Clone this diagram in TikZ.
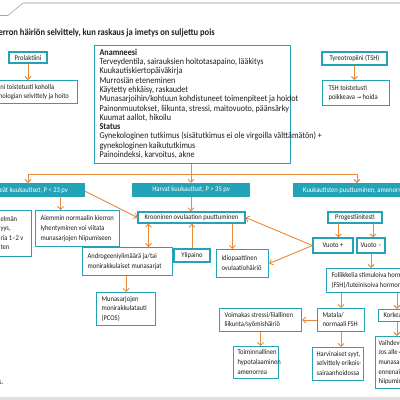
\documentclass[tikz,border=0pt]{standalone}
\usepackage{fontspec}
\setmainfont{Carlito}[FakeStretch=0.9]
\newfontfamily\symf{DejaVu Sans}
\usetikzlibrary{arrows.meta,calc}
\definecolor{teal1}{RGB}{34,163,183}
\definecolor{orng}{RGB}{232,137,60}
\definecolor{txt}{RGB}{30,30,30}
\newcommand\fs{\fontsize{7.3}{9.6}\selectfont}
\newcommand\fsb{\fontsize{9}{9.3}\selectfont}
\newcommand\rarr{{\symf\fontsize{5.5}{9.3}\selectfont →}}
\newcommand\lb[2]{\makebox[#1][l]{\begin{tabular}{@{}l@{}}#2\end{tabular}}}
\begin{document}
\begin{tikzpicture}[x=1pt,y=-1pt,
  box/.style={draw=teal1, line width=1.1pt, fill=white, inner xsep=5pt, inner ysep=1pt,
    font=\fs, text=txt, anchor=north west},
  cbox/.style={draw=teal1, line width=1.1pt, fill=white, inner xsep=3pt, inner ysep=1pt,
    font=\fs, text=txt, align=center},
  cat/.style={fill=teal1, text=white, font=\fs, inner ysep=1pt, minimum height=14pt},
  arr/.style={draw=orng, line width=0.9pt, -{Straight Barb[length=3pt,width=6pt]}},
  darr/.style={draw=orng, line width=0.9pt, {Straight Barb[length=3pt,width=6pt]}-{Straight Barb[length=3pt,width=6pt]}},
  ln/.style={draw=orng, line width=0.9pt}]
\useasboundingbox (0,0) rectangle (400,400);
\clip (0,0) rectangle (400,400);
\fill[white] (0,0) rectangle (400,400);

% frame decorations
\draw[gray!70, line width=0.6pt] (0,15.5) -- (8,15.5) -- (23,3);
\draw[gray!30, line width=2pt] (23,3) -- (400,3);
\fill[gray!25] (0,396.5) rectangle (400,400);

% title
\node[anchor=east, inner sep=0, text=txt, font=\bfseries\fontsize{9.5}{10}\selectfont] (title) at (215,33)
  {Kuukautiskierron häiriön selvittely, kun raskaus ja imetys on suljettu pois};

% top row
\node[cbox, minimum width=38pt, minimum height=11pt] (prl) at (28,57.5) {Prolaktiini};
\node[box, inner xsep=4pt, minimum height=23pt] (prl2) at (-26,80)
  {\lb{95pt}{Prolaktiini toistetusti koholla\\endokrinologian selvittely ja hoito}};
\node[box, font=\fsb, minimum height=118pt] (anam) at (94,45)
  {\lb{186pt}{\textbf{Anamneesi}\\
   Terveydentila, sairauksien hoitotasapaino, lääkitys\\
   Kuukautiskiertopäiväkirja\\
   Murrosiän eteneminen\\
   Käytetty ehkäisy, raskaudet\\
   Munasarjoihin/kohtuun kohdistuneet toimenpiteet ja hoidot\\
   Painonmuutokset, liikunta, stressi, maitovuoto, päänsärky\\
   Kuumat aallot, hikoilu\\
   \textbf{Status}\\
   Gynekologinen tutkimus (sisätutkimus ei ole virgoilla välttämätön) +\\
   gynekologinen kaikututkimus\\
   Painoindeksi, karvoitus, akne}};
\node[cbox, minimum width=65pt, minimum height=13pt] (tsh) at (354.5,58.5) {Tyreotropiini (TSH)};
\node[box, inner xsep=6pt, minimum height=25pt] (tsh2) at (322,80)
  {\lb{55pt}{TSH toistetusti\\poikkeava \rarr{} hoida}};

% categories
\node[cat, anchor=north east, inner xsep=17pt] (tih) at (85,183) {Tiheät kuukautiset, P < 23 pv};
\node[cat, minimum width=118pt] (harv) at (191,190) {Harvat kuukautiset, P > 35 pv};
\node[cat, anchor=north west, inner xsep=10pt] (amen) at (293,183) {Kuukautisten puuttuminen, amenorrea};

% left column
\node[box, inner xsep=3pt, minimum height=46pt] (left0) at (-3,210)
  {\lb{28pt}{elmän\\yys,\\ria 1–2 v\\ten}};
\node[box, minimum height=36pt] (aiem) at (35,210)
  {\lb{74pt}{Aiemmin normaalin kierron\\lyhentyminen voi viitata\\munasarjojen hiipumiseen}};

% middle column
\node[cbox, minimum width=107pt, minimum height=11pt] (kroo) at (191.5,217.5) {Krooninen ovulaation puuttuminen};
\node[box, minimum height=28pt] (andr) at (82,247)
  {\lb{80pt}{Androgeeniylimäärä ja/tai\\monirakkulaiset munasarjat}};
\node[cbox, minimum width=36pt, minimum height=13pt] (ylip) at (192,255.5) {Ylipaino};
\node[box, minimum height=28pt] (idio) at (216,249)
  {\lb{42pt}{Idiopaattinen\\ovulaatiohäiriö}};
\node[box, minimum height=33pt] (pcos) at (96,292)
  {\lb{49pt}{Munasarjojen\\monirakkulatauti\\(PCOS)}};

% right column
\node[cbox, minimum width=54pt, minimum height=11pt] (prog) at (355,217.5) {Progestiinitesti};
\node[cbox, minimum width=40pt, minimum height=15pt] (vplus) at (333,245.5) {Vuoto +};
\node[cbox, minimum width=28pt, minimum height=15pt] (vminus) at (371,245.5) {Vuoto –};
\node[box, minimum height=24pt] (fsh) at (326,268)
  {\lb{130pt}{Follikkelia stimuloiva hormoni\\(FSH)/luteinisoiva hormoni (LH)}};
\node[box, minimum height=23pt] (mat) at (317,308)
  {\lb{37pt}{Matala/\\normaali FSH}};
\node[box, minimum height=10pt] (kork) at (378,309) {\lb{40pt}{Korkea FSH}};
\node[box, minimum height=23pt] (voim) at (219,308)
  {\lb{72pt}{Voimakas stressi/liiallinen\\liikunta/syömishäiriö}};
\node[box, inner xsep=4pt, minimum height=32pt] (toim) at (233,346)
  {\lb{37pt}{Toiminnallinen\\hypotalaaminen\\amenorrea}};
\node[box, inner xsep=4pt, minimum height=33pt] (harvi) at (312,347)
  {\lb{43pt}{Harvinaiset syyt,\\selvittely erikois-\\sairaanhoidossa}};
\node[box, inner xsep=3pt, minimum height=52pt] (vaih) at (375,336)
  {\lb{60pt}{Vaihdevuodet\\Jos alle 40 v.:\\munasarjojen\\ennenaikainen\\hiipuminen}};

% footnote
\node[anchor=west, inner sep=0, font=\fs, text=txt] (foot) at (-1,383) {s.};

% connectors
\draw[arr] (prl.south) -- (prl.south |- prl2.north);
\draw[arr] (tsh.south) -- (tsh.south |- tsh2.north);
\coordinate (jL) at (28,174);
\coordinate (jR) at (357,174);
\draw[ln] (jL) -- (jR);
\draw[arr] (jL) -- (jL |- tih.north);
\draw[arr] (jR) -- (jR |- amen.north);
\draw[arr] (anam.south -| harv.north) -- (harv.north);
\path ($(aiem.north west)!0.3!(aiem.north east)$) coordinate (a1);
\draw[arr] (tih.south -| a1) -- (a1);
\draw[arr] ([yshift=-1pt]tih.east) -- (kroo.west);
\draw[arr] (harv.south) -- (harv.south |- kroo.north);
\path ($(andr.north west)!0.73!(andr.north east)$) coordinate (a2);
\draw[darr] (kroo.south -| a2) -- (a2);
\draw[arr] (ylip.north) -- (ylip.north |- kroo.south);
\path ($(idio.north west)!0.31!(idio.north east)$) coordinate (a3);
\draw[arr] (kroo.south -| a3) -- (a3);
\draw[arr] (pcos.north |- andr.south) -- (pcos.north);
\path ($(prog.south west)!0.2!(prog.south east)$) coordinate (p1);
\path ($(prog.south west)!0.83!(prog.south east)$) coordinate (p2);
\draw[arr] (p1) -- (p1 |- vplus.north);
\draw[arr] (p2) -- (p2 |- vminus.north);
\draw[arr] (vplus.west) -- (kroo.east);
\draw[arr] (vplus.west) -- (idio.east);
\draw[arr] (vminus.south) -- (vminus.south |- fsh.north);
\draw[arr] (mat.north |- fsh.south) -- (mat.north);
\coordinate (k1) at (397,0);
\draw[arr] (k1 |- fsh.south) -- (k1 |- kork.north);
\draw[arr] (k1 |- kork.south) -- (k1 |- vaih.north);
\draw[arr] (mat.west) -- (voim.east);
\draw[arr] (voim.south) -- (voim.south |- toim.north);
\draw[arr] (mat.south) -- (mat.south |- harvi.north);
\end{tikzpicture}
\end{document}
